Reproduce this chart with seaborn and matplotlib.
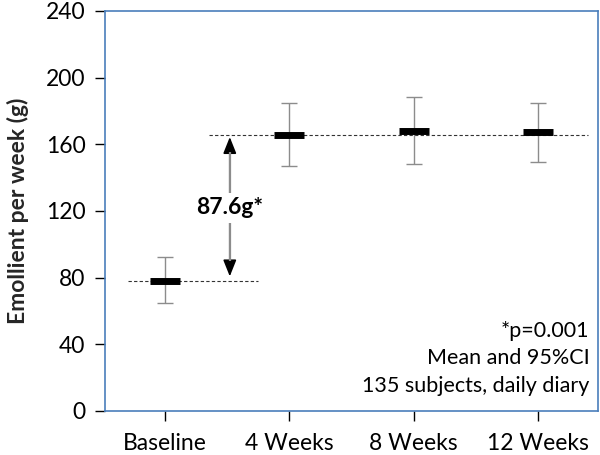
import numpy as np
import pandas as pd
import matplotlib
matplotlib.use("Agg")
import matplotlib.pyplot as plt
import seaborn as sns

# Dados (média e IC 95%)
categorias = ["Baseline", "4 Weeks", "8 Weeks", "12 Weeks"]
medias = [78.2, 165.8, 168.0, 167.2]
ic_inf = [64.6, 147.2, 148.0, 149.6]
ic_sup = [92.2, 184.6, 188.2, 185.0]
diferenca_txt = "87.6g*"
notas = ["*p=0.001", "Mean and 95%CI", "135 subjects, daily diary"]

sns.set_theme(style="white")
plt.rcParams["font.family"] = ["Lato", "DejaVu Sans"]

AZUL = "#4a7ebb"

fig = plt.figure(figsize=(6, 4.55), dpi=100)
ax = fig.add_axes([0.175, 0.097, 0.822, 0.879])

df = pd.DataFrame({"cat": categorias, "x": np.arange(len(categorias)), "media": medias})
medias_arr = np.array(medias)
yerr = [medias_arr - np.array(ic_inf), np.array(ic_sup) - medias_arr]

# IC 95%
ax.errorbar(df["x"], df["media"], yerr=yerr, fmt="none", ecolor="#8c8c8c",
            elinewidth=1, capsize=5.8, capthick=1, zorder=2)

# Média (barra preta grossa)
sns.scatterplot(data=df, x="x", y="media", marker="_", s=21 ** 2,
                linewidth=5, color="black", ax=ax, zorder=3, legend=False)

# Linhas tracejadas de referência
ax.hlines(medias[0], -0.30, 0.75, colors="#333333", linestyles=(0, (3, 2)), lw=0.8, zorder=1)
ax.hlines(medias[1], 0.35, 3.40, colors="#333333", linestyles=(0, (3, 2)), lw=0.8, zorder=1)

# Seta dupla com a diferença (pontas pretas, haste cinza)
xa = 0.52
topo, base = medias[1] - 1.5, medias[0] + 2.5
ax.annotate("", xy=(xa, topo), xytext=(xa, base),
            arrowprops=dict(arrowstyle="<|-|>,head_length=0.5,head_width=0.2",
                            lw=1.2, mutation_scale=20, shrinkA=0, shrinkB=0,
                            color="black"), zorder=3)
ax.vlines(xa, base + 9, topo - 9, colors="#8c8c8c", lw=1.6, zorder=4)
ax.text(xa, 121.8, diferenca_txt, ha="center", va="center", fontsize=16.5,
        fontweight="bold", color="black", zorder=5,
        bbox=dict(boxstyle="square,pad=0.2", fc="white", ec="none"))

# Notas no canto inferior direito
for i, txt in enumerate(notas):
    ax.text(0.982, 0.2 - i * 0.069, txt, transform=ax.transAxes, ha="right",
            va="center", fontsize=15.5, color="black")

ax.set_xlim(-0.484, 3.484)
ax.set_ylim(0, 240)
ax.set_yticks(np.arange(0, 241, 40))
ax.set_xticks(df["x"])
ax.set_xticklabels(categorias)
ax.set_xlabel("")
ax.set_ylabel("Emollient per week (g)", fontsize=16.5, fontweight="bold", labelpad=12)

for s in ax.spines.values():
    s.set_color(AZUL)
    s.set_linewidth(1.2)
ax.tick_params(axis="both", direction="out", length=7, width=1, color="black",
               labelsize=16.5, labelcolor="black", bottom=True, left=True)
ax.tick_params(axis="x", pad=9)
ax.tick_params(axis="y", pad=7)

fig.savefig("out.png", dpi=100)
